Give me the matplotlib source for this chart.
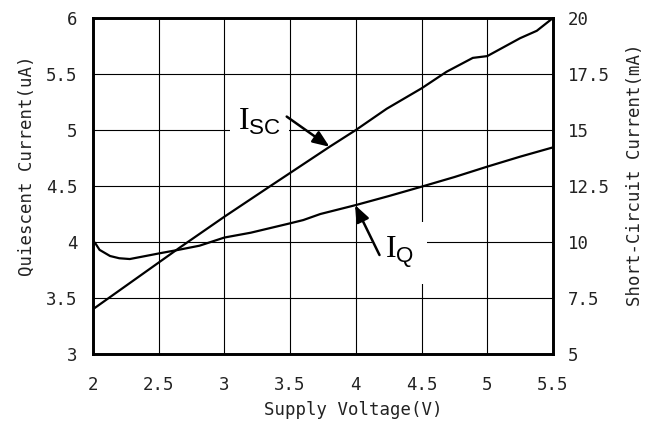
import matplotlib.pyplot as plt
import numpy as np

# datos
voltaje_isc = [2.0, 2.66, 3.0, 3.35, 3.8, 4.0, 4.235, 4.5, 4.69, 4.89, 5.0, 5.25, 5.377, 5.5]
isc_mA = [7.0, 9.75, 11.13, 12.5, 14.25, 15.0, 15.95, 16.86, 17.6, 18.22, 18.3, 19.1, 19.43, 20.0]

voltaje_iq = [2.0, 2.015, 2.05, 2.13, 2.2, 2.28, 2.4, 2.51, 2.65, 2.81, 3.0, 3.2, 3.5, 3.6, 3.73,
              4.0, 4.25, 4.5, 4.75, 5.0, 5.25, 5.5]
iq_uA = [4.0, 3.994, 3.93, 3.875, 3.855, 3.848, 3.875, 3.90, 3.93, 3.967, 4.04, 4.083, 4.167, 4.196, 4.25,
         4.33, 4.41, 4.494, 4.58, 4.673, 4.762, 4.845]

x_ticks = [2, 2.5, 3, 3.5, 4, 4.5, 5, 5.5]
x_labels = ['2', '2.5', '3', '3.5', '4', '4.5', '5', '5.5']
y_ticks = [3, 3.5, 4, 4.5, 5, 5.5, 6]
y_labels = ['3', '3.5', '4', '4.5', '5', '5.5', '6']
y2_ticks = [5, 7.5, 10, 12.5, 15, 17.5, 20]
y2_labels = ['5', '7.5', '10', '12.5', '15', '17.5', '20']

plt.rcParams['font.family'] = ['DejaVu Sans Mono', 'Liberation Mono']
plt.rcParams['mathtext.fontset'] = 'custom'
plt.rcParams['mathtext.rm'] = 'Liberation Serif'
plt.rcParams['mathtext.sf'] = 'Liberation Sans'

fig = plt.figure(figsize=(6.59, 4.23), dpi=100)
ax = fig.add_axes([0.1411, 0.1631, 0.6980, 0.7943])
ax2 = ax.twinx()

ax.set_xlim(2, 5.5)
ax.set_ylim(3, 6)
ax2.set_ylim(5, 20)

ax.set_xticks(x_ticks)
ax.set_xticklabels(x_labels)
ax.set_yticks(y_ticks)
ax.set_yticklabels(y_labels)
ax2.set_yticks(y2_ticks)
ax2.set_yticklabels(y2_labels)

ax.tick_params(axis='x', length=0, pad=16, labelsize=12.5, colors='#222222')
ax.tick_params(axis='y', length=0, pad=11, labelsize=12.5, colors='#222222')
ax2.tick_params(axis='y', length=0, pad=11, labelsize=12.5, colors='#222222')

ax.grid(True, color='black', linewidth=0.8)
ax.set_axisbelow(True)
for a in (ax, ax2):
    for s in a.spines.values():
        s.set_linewidth(1.9)
        s.set_color('black')

# curvas
ax.plot(voltaje_iq, iq_uA, color='black', linewidth=1.6, zorder=3)
ax2.plot(voltaje_isc, isc_mA, color='black', linewidth=1.6, zorder=3)

# etiquetas con flecha
ax.text(3.265, 5.075, r'$\mathrm{I}_{\mathsf{SC}}$', fontsize=23, ha='center', va='center',
        bbox=dict(boxstyle='square,pad=0.25', fc='white', ec='none'), zorder=4)
ax.annotate('', xy=(3.80, 4.85), xytext=(3.474, 5.12),
            arrowprops=dict(arrowstyle='-|>,head_length=0.5,head_width=0.2', color='black',
                            lw=1.8, mutation_scale=20, shrinkA=0, shrinkB=0), zorder=5)

ax.text(4.33, 3.90, r'$\mathrm{I}_{\mathsf{Q}}$', fontsize=23, ha='center', va='center',
        bbox=dict(boxstyle='square,pad=0.4', fc='white', ec='none'), zorder=4)
ax.annotate('', xy=(3.994, 4.33), xytext=(4.18, 3.884),
            arrowprops=dict(arrowstyle='-|>,head_length=0.5,head_width=0.2', color='black',
                            lw=1.8, mutation_scale=20, shrinkA=0, shrinkB=0), zorder=5)

# titulos de ejes
ax.text(-0.143, 0.56, 'Quiescent Current(uA)', transform=ax.transAxes, rotation=90,
        ha='center', va='center', fontsize=12.5, color='#222222')
ax.text(1.178, 0.533, 'Short-Circuit Current(mA)', transform=ax.transAxes, rotation=90,
        ha='center', va='center', fontsize=12.5, color='#222222')
ax.text(0.566, -0.167, 'Supply Voltage(V)', transform=ax.transAxes,
        ha='center', va='center', fontsize=12.5, color='#222222')

fig.savefig('out.png', dpi=100)
